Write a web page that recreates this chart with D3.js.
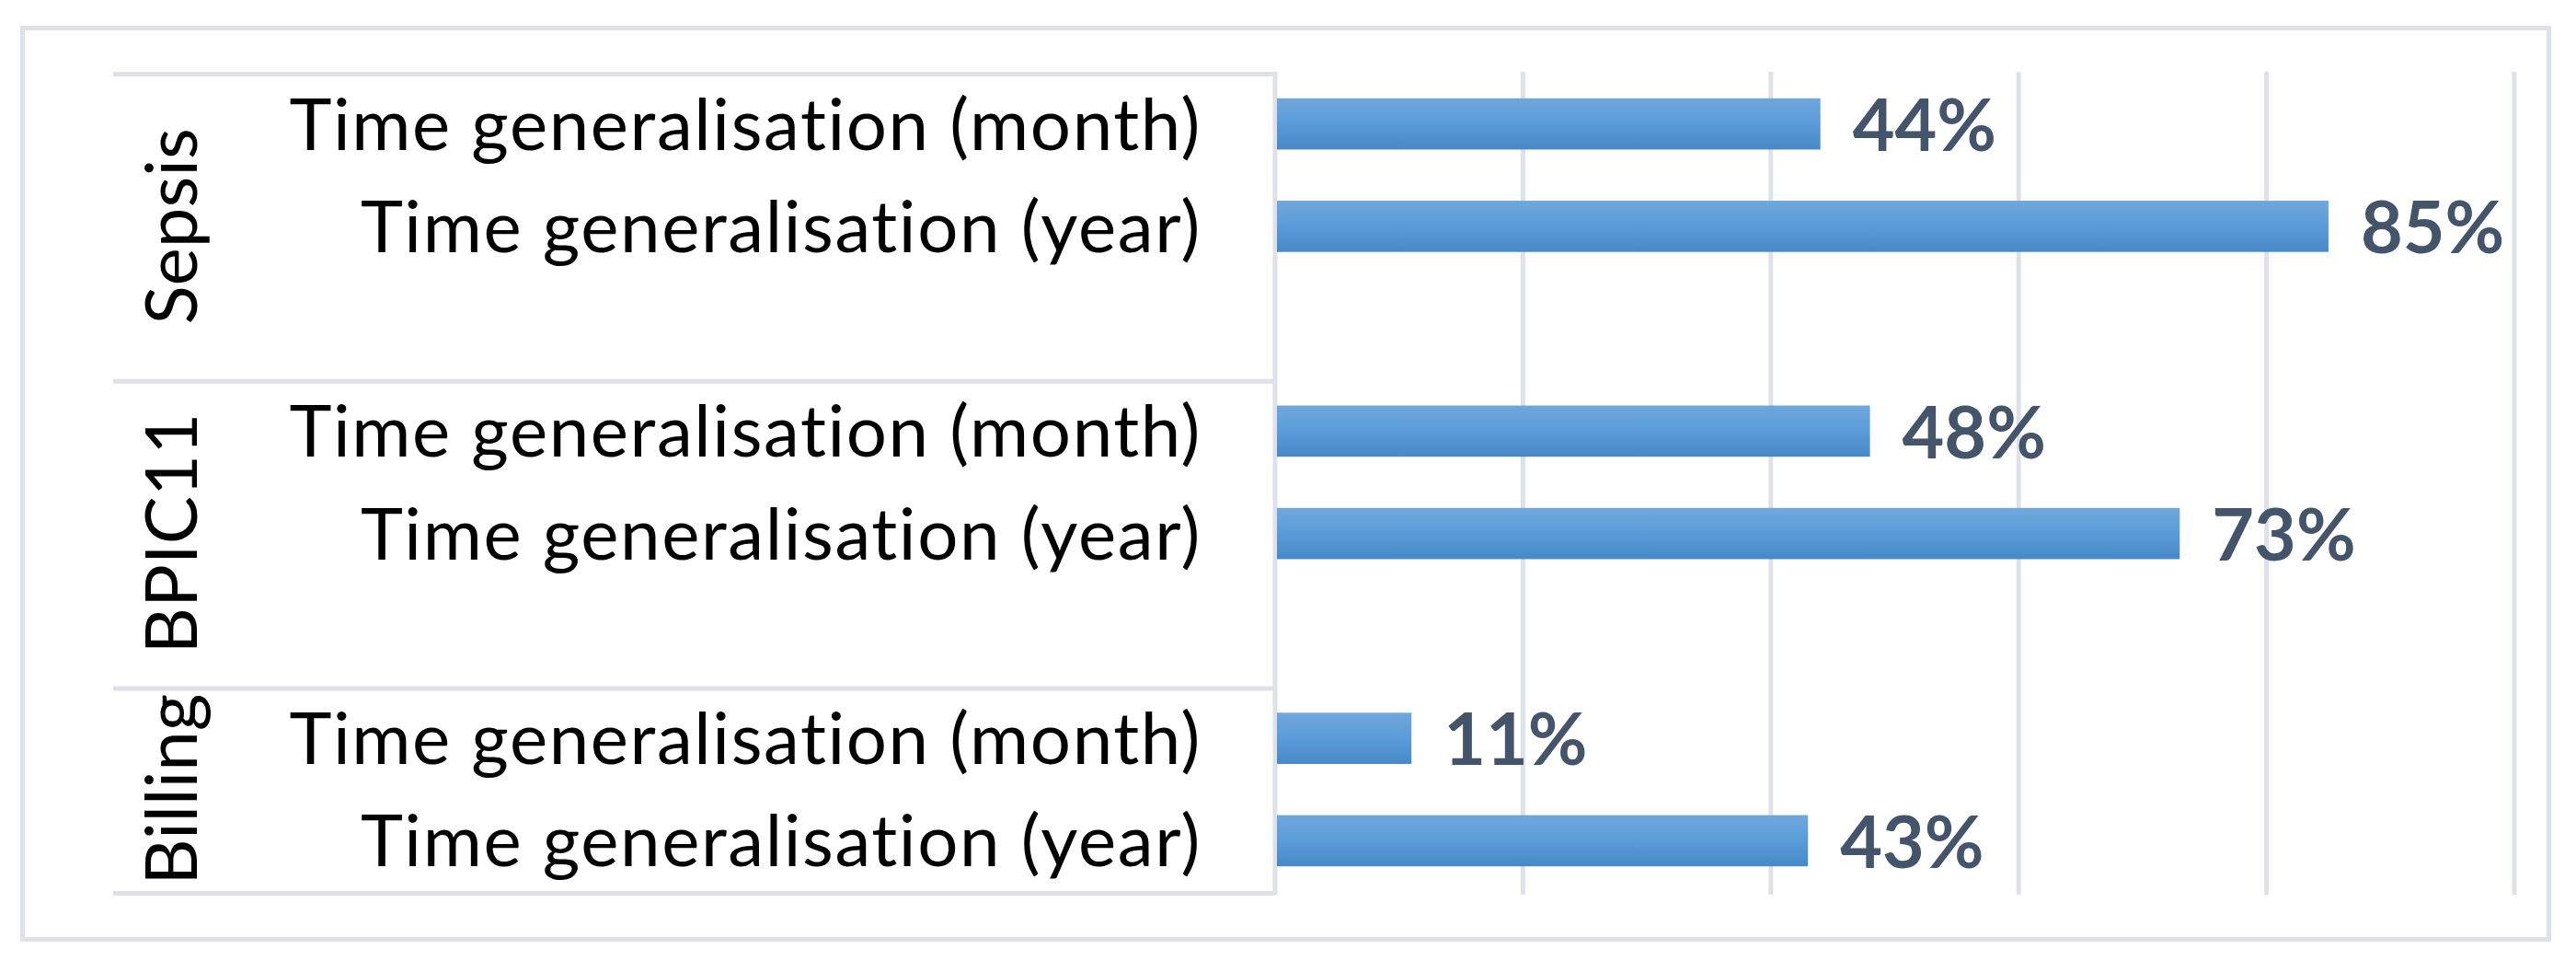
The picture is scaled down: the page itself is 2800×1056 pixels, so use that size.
<!DOCTYPE html>
<html>
<head>
<meta charset="utf-8">
<script src="https://cdn.jsdelivr.net/npm/d3@7"></script>
<style>
  html, body { margin: 0; padding: 0; background: #ffffff; }
  svg { display: block; }
  text { font-variant-ligatures: none; font-feature-settings: "liga" 0, "clig" 0; }
</style>
</head>
<body>
<svg id="chart" width="2800" height="1056"></svg>
<script>
// ---- data ----
const groups = ["Sepsis", "BPIC11", "Billing"];
const rowGroups = ["Sepsis", "Sepsis", "Sepsis", "BPIC11", "BPIC11", "BPIC11", "Billing", "Billing"];
const rowLabels = ["Time generalisation (month)", "Time generalisation (year)", "",
                   "Time generalisation (month)", "Time generalisation (year)", "",
                   "Time generalisation (month)", "Time generalisation (year)"];
const values = [0.44, 0.85, null, 0.48, 0.73, null, 0.11, 0.43];
const xTicks = [0, 0.2, 0.4, 0.6, 0.8, 1.0];

// ---- layout ----
const plotLeft = 1386, plotRight = 2733, plotTop = 79, plotBottom = 969;
const tableLeft = 123;
const gridColor = "#dee2e8";
const fontFamily = "Lato, 'Open Sans', sans-serif";

const svg = d3.select("#chart");
const rowIds = d3.range(values.length);

const x = d3.scaleLinear().domain([0, 1]).range([plotLeft, plotRight]);
const y = d3.scaleBand().domain(rowIds).range([plotTop, plotBottom]).paddingInner(0.5).paddingOuter(0.25);
const yRow = d3.scaleBand().domain(rowIds).range([plotTop, plotBottom]);

// gradient
const defs = svg.append("defs");
const grad = defs.append("linearGradient").attr("id", "barGrad")
  .attr("x1", 0).attr("y1", 0).attr("x2", 0).attr("y2", 1);
grad.append("stop").attr("offset", "0%").attr("stop-color", "#70a7dc");
grad.append("stop").attr("offset", "50%").attr("stop-color", "#5a9cd9");
grad.append("stop").attr("offset", "100%").attr("stop-color", "#4689c8");

// outer frame
svg.append("rect")
  .attr("x", 24.5).attr("y", 30.5).attr("width", 2746).attr("height", 990)
  .attr("fill", "#ffffff").attr("stroke", gridColor).attr("stroke-width", 5);

// gridlines
svg.append("g").selectAll("line").data(xTicks).join("line")
  .attr("x1", d => x(d)).attr("x2", d => x(d))
  .attr("y1", plotTop - 1).attr("y2", plotBottom + 3)
  .attr("stroke", gridColor).attr("stroke-width", 5);

// table separators (group boundaries)
const groupExtents = groups.map(g => {
  const idx = rowIds.filter(i => rowGroups[i] === g);
  return { name: g, y0: yRow(idx[0]), y1: yRow(idx[idx.length - 1]) + yRow.bandwidth() };
});
const sepYs = [plotTop].concat(groupExtents.map(e => e.y1));
svg.append("g").selectAll("line").data(sepYs).join("line")
  .attr("x1", tableLeft).attr("x2", plotLeft)
  .attr("y1", d => d + 1.5).attr("y2", d => d + 1.5)
  .attr("stroke", gridColor).attr("stroke-width", 5);

// bars
const barData = rowIds.filter(i => values[i] != null);
svg.append("g").selectAll("rect").data(barData).join("rect")
  .attr("x", x(0) + 2)
  .attr("y", i => y(i))
  .attr("width", i => x(values[i]) - x(0) - 2)
  .attr("height", y.bandwidth())
  .attr("fill", "url(#barGrad)");

// value labels
svg.append("g").selectAll("text").data(barData).join("text")
  .attr("x", i => x(values[i]) + 35)
  .attr("y", i => y(i) + y.bandwidth() / 2)
  .attr("dy", "0.37em")
  .attr("font-family", fontFamily)
  .attr("font-weight", 700)
  .attr("font-size", 79)
  .attr("fill", "#44546a")
  .text(i => Math.round(values[i] * 100) + "%");

// row labels
svg.append("g").selectAll("text").data(rowIds.filter(i => rowLabels[i] !== "")).join("text")
  .attr("x", 1306)
  .attr("y", i => y(i) + y.bandwidth() / 2)
  .attr("dy", "0.36em")
  .attr("text-anchor", "end")
  .attr("font-family", fontFamily)
  .attr("font-size", 78)
  .attr("letter-spacing", 1.6)
  .attr("fill", "#000000")
  .text(i => rowLabels[i]);

// group labels (rotated)
svg.append("g").selectAll("text").data(groupExtents).join("text")
  .attr("transform", d => `translate(214,${(d.y0 + d.y1) / 2}) rotate(-90)`)
  .attr("text-anchor", "middle")
  .attr("font-family", fontFamily)
  .attr("font-size", 78)
  .attr("fill", "#000000")
  .text(d => d.name);
</script>
</body>
</html>
